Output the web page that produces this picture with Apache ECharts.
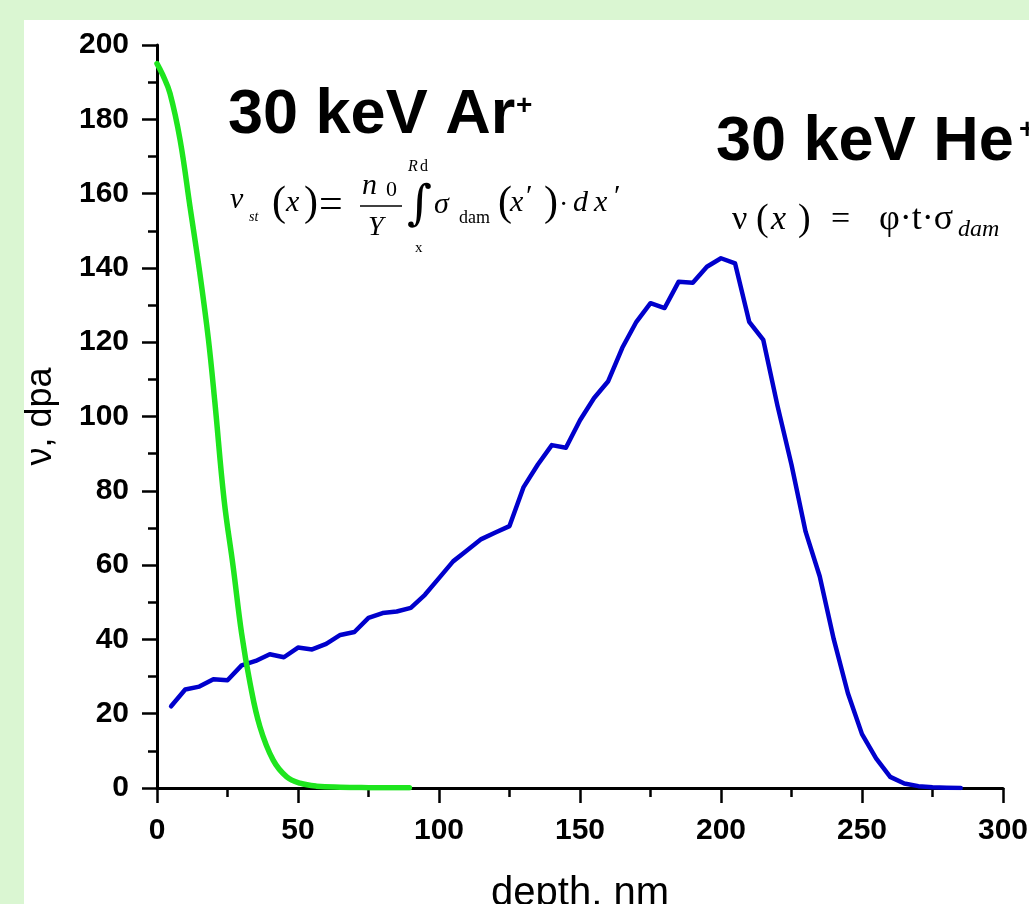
<!DOCTYPE html>
<html>
<head>
<meta charset="utf-8">
<script src="https://cdn.jsdelivr.net/npm/echarts@6/dist/echarts.min.js"></script>
<style>
  html, body { margin: 0; padding: 0; background: #daf6d2; overflow: hidden; }
  #chart { width: 1029px; height: 904px; }
</style>
</head>
<body>
<div id="chart"></div>
<script>
// Damage profile, 30 keV He+ (dpa vs depth, nm)
const heDepth = [5, 10, 15, 20, 25, 30, 35, 40, 45, 50, 55, 60, 65, 70, 75, 80, 85, 90, 95, 100,
  105, 110, 115, 120, 125, 130, 135, 140, 145, 150, 155, 160, 165, 170, 175, 180, 185, 190, 195, 200,
  205, 210, 215, 220, 225, 230, 235, 240, 245, 250, 255, 260, 265, 270, 275, 280, 285];
const heDpa = [22, 26.5, 27.3, 29.3, 29, 33, 34.2, 36, 35.2, 37.8, 37.3, 38.8, 41.2, 42, 45.8, 47.1, 47.5, 48.5, 52, 56.5,
  61, 64, 67, 68.8, 70.5, 81, 87, 92.3, 91.6, 99, 105, 109.5, 118.5, 125.5, 130.5, 129.2, 136.3, 136, 140.3, 142.6,
  141.2, 125.5, 120.6, 103, 87, 69, 57, 40, 25.5, 14.5, 8, 3, 1.2, 0.5, 0.2, 0.1, 0];

// Damage profile, 30 keV Ar+ (sputtering-corrected)
const arDepth = [0, 2, 4.6, 8.2, 11.7, 15.2, 18.2, 20.5, 23.8, 27, 30, 33, 36.5, 41.2, 46, 50.7, 56.6, 65, 75, 89.5];
const arDpa = [195, 192, 187, 174.4, 156.5, 138.5, 121, 104, 77.5, 59.6, 41.6, 28.2, 16.5, 7.5, 3, 1.3, 0.5, 0.2, 0.1, 0.05];

// Axis ranges and tick spacing
const xRange = [0, 300];
const xStep = 50;
const yRange = [0, 200];
const yStep = 20;

const SANS = '"Liberation Sans", Arial, sans-serif';
const SERIF = '"Liberation Serif", "Times New Roman", serif';

function txt(text, x, y, size, opt) {
  opt = opt || {};
  return {
    type: 'text', x: x, y: y, silent: true, z: 50,
    style: {
      text: text,
      fontSize: size,
      fontFamily: opt.family || SERIF,
      fontStyle: opt.italic ? 'italic' : 'normal',
      fontWeight: opt.bold ? 'bold' : 'normal',
      fill: '#000',
      align: 'left', verticalAlign: 'middle',
      textAlign: 'left', textVerticalAlign: 'middle'
    }
  };
}

const graphics = [
  // white panel
  { type: 'rect', shape: { x: 24, y: 20, width: 1029, height: 904 }, style: { fill: '#ffffff' }, z: -100, silent: true },

  // headings
  txt('30 keV Ar', 228, 116, 63, { family: SANS, bold: true }),
  txt('+', 516, 106, 28, { family: SANS, bold: true }),
  txt('30 keV He', 716, 143, 63, { family: SANS, bold: true }),
  txt('+', 1019, 130, 28, { family: SANS, bold: true }),

  // formula for Ar+
  txt('v', 230, 200, 30, { italic: true }),
  txt('st', 249, 217, 14, { italic: true }),
  txt('(', 272, 204, 42),
  txt('x', 286, 203, 30, { italic: true }),
  txt(')', 304, 204, 42),
  txt('=', 319, 206, 42),
  txt('n', 362, 186, 30, { italic: true }),
  txt('0', 386, 190, 22),
  { type: 'line', shape: { x1: 360, y1: 206, x2: 402, y2: 206 }, style: { stroke: '#000', lineWidth: 1.5 }, silent: true, z: 50 },
  txt('Y', 368, 228, 28, { italic: true }),
  txt('\u222B', 407, 207, 48, { family: '"DejaVu Serif", serif' }),
  txt('R', 408, 167, 16, { italic: true }),
  txt('d', 420, 167, 16),
  txt('x', 415, 248, 15),
  txt('\u03C3', 434, 205, 30, { italic: true }),
  txt('dam', 459, 218, 18),
  txt('(', 498, 204, 42),
  txt('x', 510, 203, 30, { italic: true }),
  txt('\u2032', 526, 197, 30),
  txt(')', 544, 204, 42),
  txt('\u00B7', 559, 206, 28),
  txt('d', 573, 203, 30, { italic: true }),
  txt('x', 594, 203, 30, { italic: true }),
  txt('\u2032', 614, 197, 30),

  // formula for He+
  txt('\u03BD', 732, 220, 34),
  txt('(', 756, 220, 38),
  txt('x', 771, 220, 34, { italic: true }),
  txt(')', 798, 220, 38),
  txt('=', 831, 220, 34),
  txt('\u03C6\u00B7t\u00B7\u03C3', 879, 220, 36),
  txt('dam', 958, 230, 24, { italic: true })
];

const axisLine = { show: true, onZero: false, lineStyle: { color: '#000', width: 3 } };
const tickStyle = { color: '#000', width: 2.5 };
const labelStyle = { color: '#000', fontFamily: SANS, fontWeight: 'bold', fontSize: 30 };

const chart = echarts.init(document.getElementById('chart'), null, { renderer: 'canvas' });
chart.setOption({
  backgroundColor: 'transparent',
  animation: false,
  grid: { left: 157, right: 26, top: 45, bottom: 116, containLabel: false, outerBoundsMode: 'none' },
  xAxis: {
    type: 'value', min: xRange[0], max: xRange[1], interval: xStep,
    name: 'depth, nm', nameLocation: 'middle', nameGap: 86,
    nameTextStyle: { color: '#000', fontFamily: SANS, fontSize: 40 },
    axisLine: axisLine,
    axisTick: { show: true, inside: false, length: 15, lineStyle: tickStyle },
    minorTick: { show: true, splitNumber: 2, length: 9, lineStyle: tickStyle },
    axisLabel: Object.assign({ margin: 28 }, labelStyle),
    splitLine: { show: false }
  },
  yAxis: {
    type: 'value', min: yRange[0], max: yRange[1], interval: yStep,
    name: '\u03BD, dpa', nameLocation: 'middle', nameGap: 98,
    nameTextStyle: { color: '#000', fontFamily: SANS, fontSize: 36 },
    axisLine: axisLine,
    axisTick: { show: true, inside: false, length: 15, lineStyle: tickStyle },
    minorTick: { show: true, splitNumber: 2, length: 9, lineStyle: tickStyle },
    axisLabel: Object.assign({ margin: 28 }, labelStyle),
    splitLine: { show: false }
  },
  graphic: graphics,
  series: [
    {
      name: '30 keV He+', type: 'line', showSymbol: false, smooth: false, z: 3,
      data: heDepth.map((d, i) => [d, heDpa[i]]),
      lineStyle: { color: '#0000cc', width: 4.5, join: 'round', cap: 'round' }
    },
    {
      name: '30 keV Ar+', type: 'line', showSymbol: false, smooth: 0.4, z: 4,
      data: arDepth.map((d, i) => [d, arDpa[i]]),
      lineStyle: { color: '#1ee51e', width: 5.5, join: 'round', cap: 'round' }
    }
  ]
});
</script>
</body>
</html>
